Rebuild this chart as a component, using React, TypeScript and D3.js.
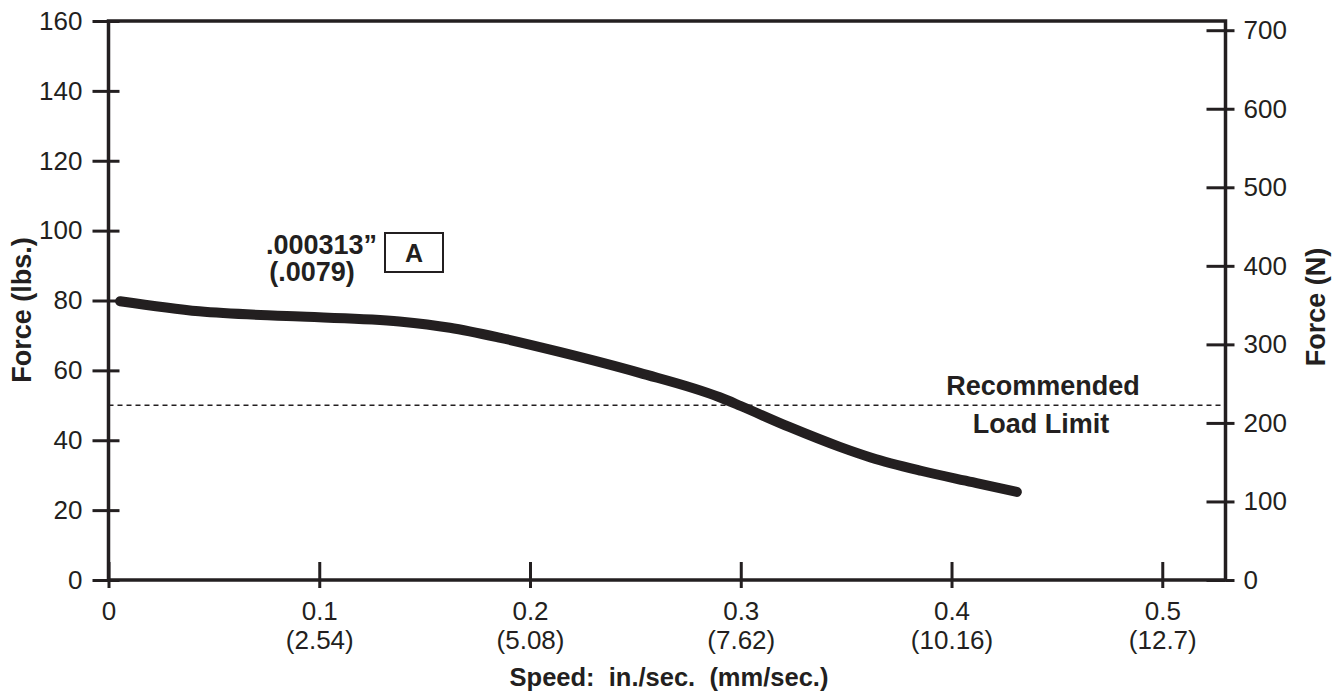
import { useEffect, useRef } from 'react';
import * as d3 from 'd3';

// speed in in./sec., force in lbs
const speeds = [0.0055, 0.043, 0.091, 0.138, 0.162, 0.186, 0.214, 0.252, 0.29, 0.3, 0.323, 0.347, 0.362, 0.386, 0.41, 0.431];
const forces = [79.8, 76.9, 75.4, 74.0, 72.2, 69.3, 65.3, 59.3, 52.3, 49.8, 43.8, 38.1, 35.0, 31.2, 28.0, 25.2];

const speedTicks = [0, 0.1, 0.2, 0.3, 0.4, 0.5];
const speedTickLabels = ['0', '0.1', '0.2', '0.3', '0.4', '0.5'];
const mmTickLabels = ['', '(2.54)', '(5.08)', '(7.62)', '(10.16)', '(12.7)'];
const lbsTicks = [0, 20, 40, 60, 80, 100, 120, 140, 160];
const newtonTicks = [0, 100, 200, 300, 400, 500, 600, 700];
const loadLimit = 50;

const INK = '#231f20';
const FONT = '"Liberation Sans", Arial, Helvetica, sans-serif';

export default function App() {
  const svgRef = useRef<SVGSVGElement>(null);

  useEffect(() => {
    if (!svgRef.current) return;
    const svg = d3.select(svgRef.current);
    svg.selectAll('*').remove();

    const left = 108.5, right = 1225.5, top = 21, bottom = 580;

    const x = d3.scaleLinear().domain([0, 0.53]).range([left, right]);
    const y = d3.scaleLinear().domain([0, 160]).range([bottom, top]);
    const yN = d3.scaleLinear().domain([0, 160 * 4.448222]).range([bottom, top]);

    const styleAxis = (g: any) => {
      g.select('.domain').remove();
      g.selectAll('.tick line').attr('stroke', INK).attr('stroke-width', 3);
      g.selectAll('.tick text')
        .attr('fill', INK)
        .attr('font-family', FONT)
        .attr('font-size', 26);
    };

    // frame
    svg.append('rect')
      .attr('x', left)
      .attr('y', top)
      .attr('width', right - left)
      .attr('height', bottom - top)
      .attr('fill', 'none')
      .attr('stroke', INK)
      .attr('stroke-width', 3.5);

    // left axis, ticks crossing the spine
    svg.append('g')
      .attr('transform', `translate(${left},0)`)
      .call(d3.axisLeft(y).tickValues(lbsTicks).tickSize(16).tickSizeOuter(0).tickPadding(10))
      .call(styleAxis);
    svg.append('g')
      .attr('transform', `translate(${left},0)`)
      .call(d3.axisRight(y).tickValues(lbsTicks).tickSize(11).tickSizeOuter(0).tickFormat(() => ''))
      .call(styleAxis);

    // right axis in newtons
    svg.append('g')
      .attr('transform', `translate(${right},0)`)
      .call(d3.axisRight(yN).tickValues(newtonTicks).tickSize(9).tickSizeOuter(0).tickPadding(9))
      .call(styleAxis);
    svg.append('g')
      .attr('transform', `translate(${right},0)`)
      .call(d3.axisLeft(yN).tickValues(newtonTicks).tickSize(19).tickSizeOuter(0).tickFormat(() => ''))
      .call(styleAxis);

    // bottom axis, two-line labels
    const bx = svg.append('g')
      .attr('transform', `translate(0,${bottom})`)
      .call(d3.axisBottom(x).tickValues(speedTicks).tickSize(8).tickSizeOuter(0).tickFormat(() => ''))
      .call(styleAxis);
    svg.append('g')
      .attr('transform', `translate(0,${bottom})`)
      .call(d3.axisTop(x).tickValues(speedTicks).tickSize(18).tickSizeOuter(0).tickFormat(() => ''))
      .call(styleAxis);
    bx.selectAll('.tick text').remove();
    bx.selectAll('.tick').each(function (_d, i) {
      const t = d3.select(this).append('text')
        .attr('fill', INK)
        .attr('font-family', FONT)
        .attr('font-size', 26)
        .attr('text-anchor', 'middle');
      t.append('tspan').attr('x', 0).attr('y', 40).text(speedTickLabels[i]);
      if (mmTickLabels[i]) t.append('tspan').attr('x', 0).attr('y', 69).text(mmTickLabels[i]);
    });

    // recommended load limit
    svg.append('line')
      .attr('x1', left)
      .attr('x2', right)
      .attr('y1', y(loadLimit))
      .attr('y2', y(loadLimit))
      .attr('stroke', INK)
      .attr('stroke-width', 1.6)
      .attr('stroke-dasharray', '5,4');

    const bold = (tx: number, ty: number, s: string, anchor = 'middle', size = 27) =>
      svg.append('text')
        .attr('x', tx)
        .attr('y', ty)
        .attr('text-anchor', anchor)
        .attr('font-family', FONT)
        .attr('font-weight', 'bold')
        .attr('font-size', size)
        .attr('fill', INK)
        .style('white-space', 'pre')
        .text(s);

    bold(1043, 395, 'Recommended');
    bold(1041, 433, 'Load Limit');

    // force curve
    const line = d3.line<number>()
      .x((_d, i) => x(speeds[i]))
      .y(d => y(d))
      .curve(d3.curveMonotoneX);
    svg.append('path')
      .datum(forces)
      .attr('d', line)
      .attr('fill', 'none')
      .attr('stroke', INK)
      .attr('stroke-width', 10)
      .attr('stroke-linecap', 'round')
      .attr('stroke-linejoin', 'round');

    // curve label
    bold(377, 254, '.000313\u201d', 'end', 27);
    bold(312, 281, '(.0079)', 'middle', 27);
    svg.append('rect')
      .attr('x', 385)
      .attr('y', 233)
      .attr('width', 58)
      .attr('height', 39)
      .attr('fill', 'none')
      .attr('stroke', INK)
      .attr('stroke-width', 2);
    bold(414, 262, 'A', 'middle', 25);

    // axis titles
    bold(669, 686, 'Speed:  in./sec.  (mm/sec.)', 'middle', 25.5);
    svg.append('text')
      .attr('transform', `translate(31,${310}) rotate(-90)`)
      .attr('text-anchor', 'middle')
      .attr('font-family', FONT)
      .attr('font-weight', 'bold')
      .attr('font-size', 27)
      .attr('fill', INK)
      .text('Force (lbs.)');
    svg.append('text')
      .attr('transform', `translate(1325,${307}) rotate(-90)`)
      .attr('text-anchor', 'middle')
      .attr('font-family', FONT)
      .attr('font-weight', 'bold')
      .attr('font-size', 27)
      .attr('fill', INK)
      .text('Force (N)');
  }, []);

  return (
    <svg
      ref={svgRef}
      width={1341}
      height={694}
      style={{ position: 'absolute', left: 0, top: 0, background: '#fff' }}
    />
  );
}
